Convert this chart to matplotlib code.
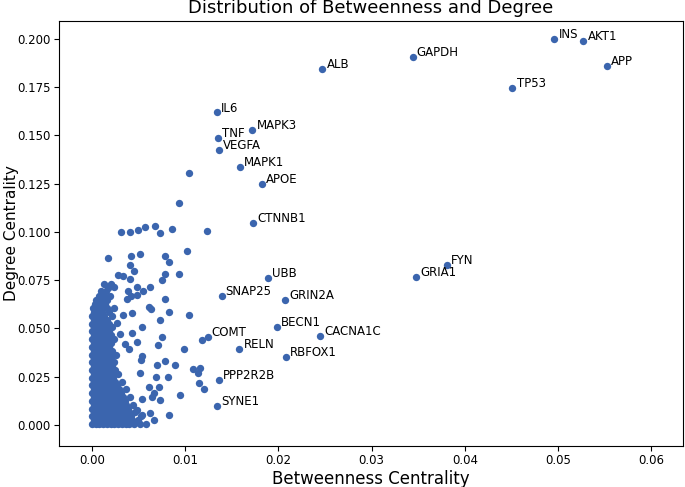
import matplotlib.pyplot as plt

# labelled genes
genes = ['INS', 'AKT1', 'APP', 'GAPDH', 'ALB', 'TP53', 'IL6', 'MAPK3', 'TNF',
         'VEGFA', 'MAPK1', 'APOE', 'CTNNB1', 'FYN', 'GRIA1', 'UBB', 'SNAP25',
         'GRIN2A', 'BECN1', 'CACNA1C', 'COMT', 'RELN', 'RBFOX1', 'PPP2R2B', 'SYNE1']
gene_btw = [0.0496, 0.0527, 0.0552, 0.0344, 0.0247, 0.0451, 0.0134, 0.0172, 0.0135,
            0.0136, 0.0159, 0.0182, 0.0173, 0.0381, 0.0348, 0.0189, 0.0139,
            0.0207, 0.0198, 0.0245, 0.0124, 0.0158, 0.0208, 0.0136, 0.0134]
gene_deg = [0.200, 0.199, 0.186, 0.1907, 0.1845, 0.1746, 0.162, 0.153, 0.1487,
            0.1425, 0.1337, 0.1249, 0.1047, 0.0829, 0.0767, 0.0762, 0.0668,
            0.0648, 0.0508, 0.0461, 0.0456, 0.0394, 0.0352, 0.0233, 0.0098]

# scattered unlabelled nodes
other_btw = [0.0104, 0.0093, 0.0031, 0.0041, 0.0049, 0.0057, 0.0068, 0.0073, 0.0086,
             0.0123, 0.0102, 0.0017, 0.0042, 0.0052, 0.0078, 0.0083, 0.0041, 0.0045,
             0.0093, 0.0078, 0.0028, 0.0033, 0.0041, 0.0075, 0.0020, 0.0017, 0.0024,
             0.0039, 0.0048, 0.0055, 0.0062, 0.0078, 0.0038, 0.0042, 0.0048, 0.0012,
             0.0009, 0.0061, 0.0063, 0.0083, 0.0104, 0.0033, 0.0043, 0.0054, 0.0073,
             0.0075, 0.0071, 0.0099, 0.0043, 0.0048, 0.0040, 0.0078, 0.0070, 0.0089,
             0.0053, 0.0054, 0.0108, 0.0116, 0.0114, 0.0115, 0.0120, 0.0082, 0.0069,
             0.0052, 0.0072, 0.0061, 0.0094, 0.0067, 0.0073, 0.0054, 0.0064, 0.0083,
             0.0067, 0.0062, 0.0054, 0.0048, 0.0118, 0.0035, 0.0030, 0.0027]
other_deg = [0.1306, 0.115, 0.100, 0.100, 0.101, 0.1026, 0.1031, 0.0995, 0.1016,
             0.1005, 0.090, 0.0865, 0.0875, 0.0886, 0.0875, 0.0845, 0.0829, 0.080,
             0.078, 0.078, 0.0777, 0.0772, 0.0756, 0.075, 0.0725, 0.071, 0.0715,
             0.0694, 0.0715, 0.0694, 0.0715, 0.0653, 0.0653, 0.0668, 0.0674, 0.0663,
             0.0648, 0.0611, 0.060, 0.0585, 0.057, 0.057, 0.058, 0.0508, 0.0544,
             0.0456, 0.0415, 0.0394, 0.0477, 0.043, 0.0394, 0.0332, 0.0311, 0.0311,
             0.0337, 0.0358, 0.029, 0.0295, 0.0269, 0.0218, 0.0187, 0.0249, 0.0249,
             0.0269, 0.0197, 0.0197, 0.0155, 0.0166, 0.013, 0.0135, 0.0145, 0.0052,
             0.0026, 0.0062, 0.0052, 0.0078, 0.0440, 0.0420, 0.0470, 0.0530]

# dense core near the origin: degree level -> betweenness values
core_rows = {
    0.0005: [0.0000, 0.0004, 0.0008, 0.0012, 0.0016, 0.0020, 0.0024, 0.0028, 0.0032, 0.0036, 0.0040, 0.0045, 0.0051, 0.0058],
    0.0025: [0.0002, 0.0006, 0.0010, 0.0014, 0.0018, 0.0022, 0.0026, 0.0030, 0.0034, 0.0038, 0.0043, 0.0049],
    0.0045: [0.0000, 0.0004, 0.0008, 0.0012, 0.0016, 0.0020, 0.0024, 0.0028, 0.0032, 0.0037, 0.0042, 0.0053],
    0.0065: [0.0002, 0.0006, 0.0010, 0.0014, 0.0018, 0.0022, 0.0026, 0.0030, 0.0035, 0.0040, 0.0046],
    0.0085: [0.0000, 0.0004, 0.0008, 0.0012, 0.0016, 0.0020, 0.0024, 0.0028, 0.0033, 0.0039],
    0.0105: [0.0002, 0.0006, 0.0010, 0.0014, 0.0018, 0.0022, 0.0026, 0.0031, 0.0037, 0.0044],
    0.0125: [0.0000, 0.0004, 0.0008, 0.0012, 0.0016, 0.0020, 0.0024, 0.0029, 0.0035],
    0.0145: [0.0002, 0.0006, 0.0010, 0.0014, 0.0018, 0.0022, 0.0027, 0.0033, 0.0041],
    0.0165: [0.0000, 0.0004, 0.0008, 0.0012, 0.0016, 0.0020, 0.0025, 0.0031],
    0.0185: [0.0002, 0.0006, 0.0010, 0.0014, 0.0018, 0.0023, 0.0029, 0.0036],
    0.0205: [0.0000, 0.0004, 0.0008, 0.0012, 0.0016, 0.0021, 0.0027],
    0.0225: [0.0002, 0.0006, 0.0010, 0.0014, 0.0019, 0.0025, 0.0032],
    0.0245: [0.0000, 0.0004, 0.0008, 0.0012, 0.0017, 0.0023],
    0.0265: [0.0002, 0.0006, 0.0010, 0.0015, 0.0021, 0.0028],
    0.0285: [0.0000, 0.0004, 0.0008, 0.0013, 0.0019, 0.0025],
    0.0305: [0.0002, 0.0006, 0.0010, 0.0015, 0.0021],
    0.0325: [0.0000, 0.0004, 0.0008, 0.0013, 0.0018, 0.0024],
    0.0345: [0.0002, 0.0006, 0.0010, 0.0015, 0.0020],
    0.0365: [0.0000, 0.0004, 0.0008, 0.0013, 0.0018, 0.0026],
    0.0385: [0.0002, 0.0006, 0.0010, 0.0015, 0.0021],
    0.0405: [0.0000, 0.0004, 0.0008, 0.0013, 0.0018],
    0.0425: [0.0002, 0.0006, 0.0010, 0.0015, 0.0020],
    0.0445: [0.0000, 0.0004, 0.0008, 0.0013, 0.0018, 0.0024],
    0.0465: [0.0002, 0.0006, 0.0010, 0.0015, 0.0020],
    0.0485: [0.0000, 0.0004, 0.0008, 0.0013, 0.0018],
    0.0505: [0.0002, 0.0006, 0.0010, 0.0015, 0.0021],
    0.0525: [0.0000, 0.0004, 0.0008, 0.0013, 0.0018],
    0.0545: [0.0002, 0.0006, 0.0010, 0.0016],
    0.0565: [0.0000, 0.0004, 0.0008, 0.0013, 0.0022],
    0.0585: [0.0002, 0.0006, 0.0011, 0.0018],
    0.0605: [0.0001, 0.0005, 0.0010, 0.0016, 0.0024],
    0.0625: [0.0003, 0.0008, 0.0014],
    0.0645: [0.0004, 0.0010, 0.0016],
    0.0670: [0.0007, 0.0013, 0.0019],
    0.0695: [0.0010, 0.0015],
    0.0730: [0.0013, 0.0020],
}

core_btw = []
core_deg = []
for d, xs in core_rows.items():
    for x in xs:
        core_btw.append(x)
        core_deg.append(d)

color = '#3b65ae'

fig = plt.figure(figsize=(6.85, 4.87), dpi=100)
ax = fig.add_axes([0.0861, 0.0842, 0.911, 0.8727])

ax.scatter(core_btw, core_deg, s=28, color=color, linewidths=0)
ax.scatter(other_btw, other_deg, s=28, color=color, linewidths=0)
ax.scatter(gene_btw, gene_deg, s=28, color=color, linewidths=0)

for name, x, y in zip(genes, gene_btw, gene_deg):
    ax.annotate(name, (x, y), xytext=(3, 3), textcoords='offset points',
                fontsize=8.5, va='center', ha='left')

ax.set_xlim(-0.00354, 0.0634)
ax.set_ylim(-0.0109, 0.2093)
ax.set_xticks([0.00, 0.01, 0.02, 0.03, 0.04, 0.05, 0.06])
ax.set_xticklabels(['0.00', '0.01', '0.02', '0.03', '0.04', '0.05', '0.06'])
ax.set_yticks([0.000, 0.025, 0.050, 0.075, 0.100, 0.125, 0.150, 0.175, 0.200])
ax.set_yticklabels(['0.000', '0.025', '0.050', '0.075', '0.100', '0.125', '0.150', '0.175', '0.200'])
ax.tick_params(labelsize=8.5, pad=2.5)

ax.set_title('Distribution of Betweenness and Degree', fontsize=13)
ax.set_xlabel('Betweenness Centrality', fontsize=12, labelpad=2)
ax.set_ylabel('Degree Centrality', fontsize=11)
ax.yaxis.set_label_coords(-0.064, 0.5)

fig.savefig('out.png', dpi=100)
